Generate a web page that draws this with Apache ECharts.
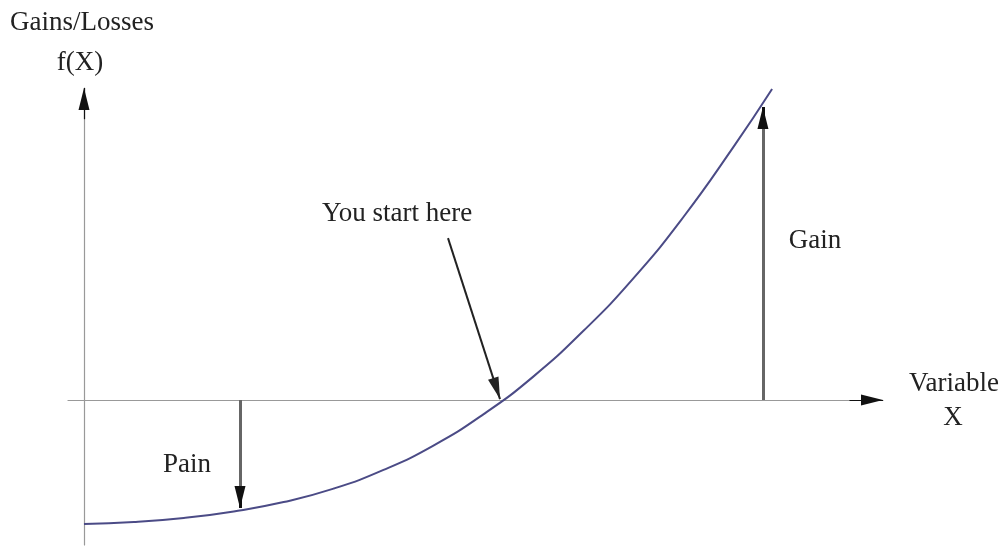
<!DOCTYPE html>
<html>
<head>
<meta charset="utf-8">
<script src="https://cdn.jsdelivr.net/npm/echarts@6/dist/echarts.min.js"></script>
<style>
  html, body { margin: 0; padding: 0; background: #fff; }
  #chart { width: 1004px; height: 547px; }
</style>
</head>
<body>
<div id="chart"></div>
<script>
// curve f(X) (x: variable, y: gains/losses)
const curveX = [0, 0.6, 1.2, 1.8, 2.4, 3.0, 3.6, 4.2, 4.8, 5.4, 6.0, 6.6, 7.2, 7.8, 8.27];
const curveY = [-3.97, -3.91, -3.78, -3.57, -3.27, -2.84, -2.24, -1.46, -0.46, 0.75, 2.21, 3.89, 5.85, 8.09, 9.97];

// annotation arrows [from, to]
const painArrow = [[1.875, 0], [1.875, -3.46]];
const gainArrow = [[8.16, 0], [8.16, 9.39]];
const startArrow = [[4.375, 5.19], [5.0, 0.03]];
// black heads at the ends of the axes
const xAxisHead = [[9.2, 0], [9.603, 0]];
const yAxisHead = [[0, 9.0], [0, 10]];

const serif = '"Liberation Serif", "DejaVu Serif", serif';

function txt(text, x, y) {
  return {
    type: 'text',
    x: x,
    y: y,
    style: {
      text: text,
      fill: '#222',
      font: '27px ' + serif,
      align: 'center',
      verticalAlign: 'middle'
    }
  };
}

function arrowLine(pts, color, width, head) {
  return [
    { coord: pts[0], symbol: 'none', lineStyle: { color: color, width: width } },
    { coord: pts[1], symbol: head || 'triangle' }
  ];
}

const chart = echarts.init(document.getElementById('chart'));
chart.setOption({
  animation: false,
  grid: { left: 68, right: 121, top: 88, bottom: 2 },
  xAxis: {
    type: 'value',
    min: -0.192,
    max: 9.603,
    axisLine: { onZero: true, lineStyle: { color: '#999', width: 1.2 } },
    axisTick: { show: false },
    axisLabel: { show: false },
    splitLine: { show: false }
  },
  yAxis: {
    type: 'value',
    min: -4.647,
    max: 10,
    axisLine: { onZero: true, lineStyle: { color: '#999', width: 1.2 } },
    axisTick: { show: false },
    axisLabel: { show: false },
    splitLine: { show: false }
  },
  series: [
    {
      type: 'line',
      data: curveX.map((x, i) => [x, curveY[i]]),
      smooth: 0.5,
      showSymbol: false,
      lineStyle: { color: '#4b4b86', width: 2 },
      markLine: {
        silent: true,
        symbolSize: [11, 22],
        symbolOffset: [[0, 0], [0, 11]],
        label: { show: false },
        lineStyle: { type: 'solid' },
        data: [
          arrowLine(painArrow, '#666', 3, 'none'),
          arrowLine(gainArrow, '#666', 3, 'none'),
          arrowLine([[painArrow[1][0], painArrow[1][1] + 0.7], painArrow[1]], '#111', 3),
          arrowLine([[gainArrow[1][0], gainArrow[1][1] - 0.7], gainArrow[1]], '#111', 3),
          arrowLine(startArrow, '#222', 2),
          arrowLine(xAxisHead, '#111', 1.2),
          arrowLine(yAxisHead, '#111', 1.2)
        ]
      }
    }
  ],
  graphic: [
    txt('Gains/Losses', 82, 23),
    txt('f(X)', 80, 63),
    txt('You start here', 397, 214),
    txt('Gain', 815, 241),
    txt('Pain', 187, 465),
    txt('Variable', 954, 384),
    txt('X', 953, 418)
  ]
});
</script>
</body>
</html>
